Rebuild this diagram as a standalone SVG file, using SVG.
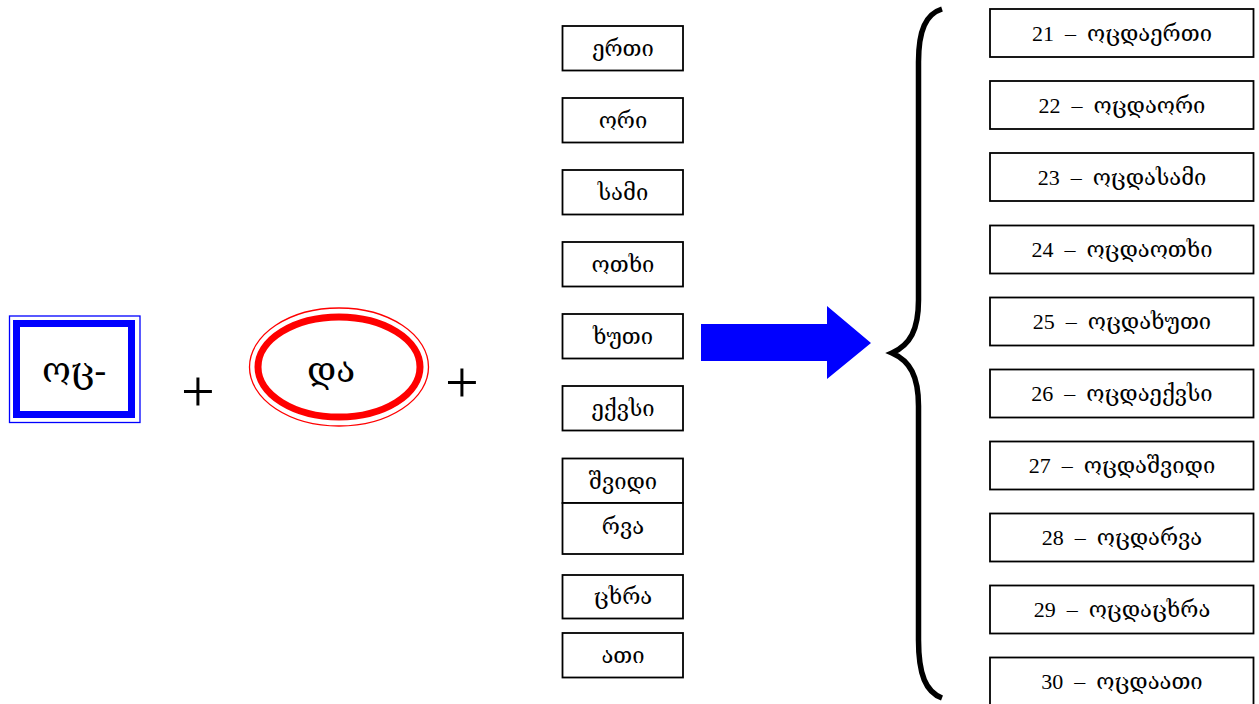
<svg xmlns="http://www.w3.org/2000/svg" width="1259" height="704" viewBox="0 0 1259 704">
<style>
  .t { font-family: "Liberation Serif", "DejaVu Serif", "DejaVu Sans", serif; fill: #000; text-anchor: middle; white-space: pre; }
  .s { font-size: 22px; }
  .box { fill: #fff; stroke: #000; stroke-width: 1.8; }
  .plus { font-family: "Liberation Serif", serif; font-size: 60px; fill: #000; text-anchor: middle; }
</style>
<rect width="1259" height="704" fill="#fff"/>

<g id="prefix">
  <rect x="9.5" y="316" width="130.5" height="106.5" fill="#fff" stroke="#0000ff" stroke-width="1.3"/>
  <rect x="16.5" y="323.5" width="115" height="91" fill="#fff" stroke="#0000ff" stroke-width="7"/>
  <text class="t" x="74" y="382" font-size="35">ოც-</text>
</g>

<g id="plus1"><text class="plus" x="198" y="411">+</text></g>

<g id="conj">
  <ellipse cx="339" cy="367" rx="89.5" ry="59" fill="#fff" stroke="#ff0000" stroke-width="1.3"/>
  <ellipse cx="339" cy="367" rx="81" ry="50" fill="#fff" stroke="#ff0000" stroke-width="7"/>
  <text class="t" x="331" y="382" font-size="35">და</text>
</g>

<g id="plus2"><text class="plus" x="462" y="402">+</text></g>

<g id="n1"><rect class="box" x="562.5" y="26" width="120.5" height="44.5"/><text class="t s" x="623" y="56">ერთი</text></g>
<g id="n2"><rect class="box" x="562.5" y="98" width="120.5" height="44.5"/><text class="t s" x="623" y="128">ორი</text></g>
<g id="n3"><rect class="box" x="562.5" y="170" width="120.5" height="44.5"/><text class="t s" x="623" y="200">სამი</text></g>
<g id="n4"><rect class="box" x="562.5" y="242" width="120.5" height="44.5"/><text class="t s" x="623" y="272">ოთხი</text></g>
<g id="n5"><rect class="box" x="562.5" y="314" width="120.5" height="44.5"/><text class="t s" x="623" y="344">ხუთი</text></g>
<g id="n6"><rect class="box" x="562.5" y="386" width="120.5" height="44.5"/><text class="t s" x="623" y="416">ექვსი</text></g>
<g id="n7"><rect class="box" x="562.5" y="458.5" width="120.5" height="44.5"/><text class="t s" x="623" y="489">შვიდი</text></g>
<g id="n8"><rect class="box" x="562.5" y="503" width="120.5" height="51"/><text class="t s" x="623" y="534">რვა</text></g>
<g id="n9"><rect class="box" x="562.5" y="575" width="120.5" height="43.5"/><text class="t s" x="623" y="604">ცხრა</text></g>
<g id="n10"><rect class="box" x="562.5" y="633" width="120.5" height="44.5"/><text class="t s" x="623" y="663">ათი</text></g>

<g id="connectors">
  <polygon points="701,324 827,324 827,306 871,343 827,379 827,361 701,361" fill="#0000ff"/>
  <path d="M942,9 C926,14 918.5,30 918.5,62 L918.5,300 C918.5,330 910,345 892,353 C910,361 918.5,376 918.5,406 L918.5,640 C918.5,675 926,692 942,698" fill="none" stroke="#000" stroke-width="5.5"/>
</g>

<g id="r21"><rect class="box" x="990" y="9" width="263.5" height="48"/><text class="t s" x="1122" y="41">21  –  ოცდაერთი</text></g>
<g id="r22"><rect class="box" x="990" y="81" width="263.5" height="48"/><text class="t s" x="1122" y="113">22  –  ოცდაორი</text></g>
<g id="r23"><rect class="box" x="990" y="153" width="263.5" height="48"/><text class="t s" x="1122" y="185">23  –  ოცდასამი</text></g>
<g id="r24"><rect class="box" x="990" y="225.5" width="263.5" height="48"/><text class="t s" x="1122" y="257">24  –  ოცდაოთხი</text></g>
<g id="r25"><rect class="box" x="990" y="297.5" width="263.5" height="48"/><text class="t s" x="1122" y="329">25  –  ოცდახუთი</text></g>
<g id="r26"><rect class="box" x="990" y="369.5" width="263.5" height="48"/><text class="t s" x="1122" y="401">26  –  ოცდაექვსი</text></g>
<g id="r27"><rect class="box" x="990" y="441.5" width="263.5" height="48"/><text class="t s" x="1122" y="473">27  –  ოცდაშვიდი</text></g>
<g id="r28"><rect class="box" x="990" y="513.5" width="263.5" height="48"/><text class="t s" x="1122" y="545">28  –  ოცდარვა</text></g>
<g id="r29"><rect class="box" x="990" y="585.5" width="263.5" height="48"/><text class="t s" x="1122" y="617">29  –  ოცდაცხრა</text></g>
<g id="r30"><rect class="box" x="990" y="657.5" width="263.5" height="48"/><text class="t s" x="1122" y="689">30  –  ოცდაათი</text></g>
</svg>
